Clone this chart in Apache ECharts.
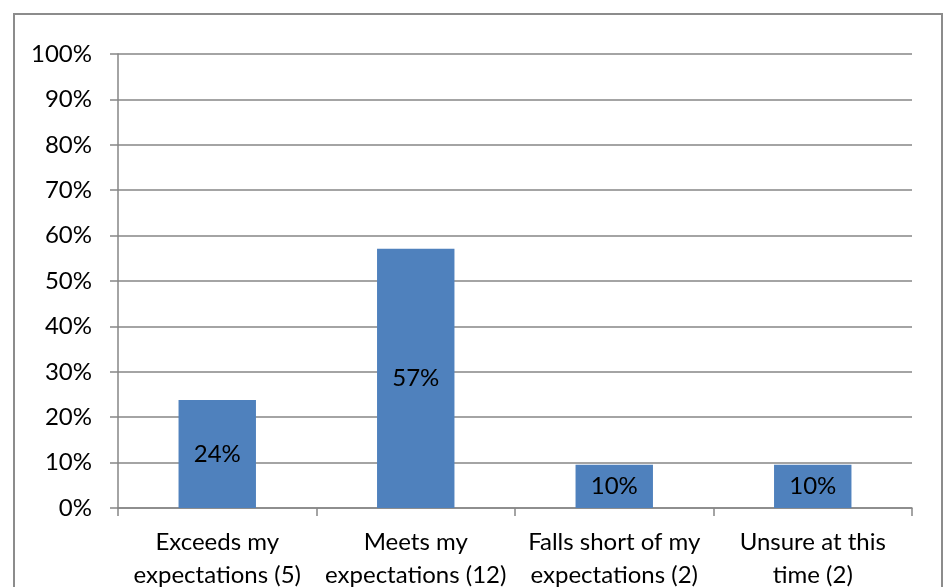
<!DOCTYPE html>
<html>
<head>
<meta charset="utf-8">
<script src="https://cdn.jsdelivr.net/npm/echarts@6/dist/echarts.min.js"></script>
<style>
  html, body { margin: 0; padding: 0; background: #fff; }
  #chart { width: 946px; height: 587px; }
</style>
</head>
<body>
<div id="chart"></div>
<script>
// data
const categories = [
  'Exceeds my\nexpectations (5)',
  'Meets my\nexpectations (12)',
  'Falls short of my\nexpectations (2)',
  'Unsure at this\ntime (2)'
];
const percents = [23.8, 57.1, 9.5, 9.5];
const yTicks = [0, 10, 20, 30, 40, 50, 60, 70, 80, 90, 100];

const fontFam = 'Lato, "Open Sans", sans-serif';
const myChart = echarts.init(document.getElementById('chart'));

const option = {
  animation: false,
  backgroundColor: '#fff',
  graphic: [{
    type: 'rect',
    shape: { x: 14, y: 14, width: 928, height: 600 },
    style: { fill: 'none', stroke: '#8c8c8c', lineWidth: 2 }
  }],
  grid: { left: 118, right: 34, top: 54, bottom: 79, outerBoundsMode: 'none', containLabel: false },
  xAxis: {
    type: 'category',
    data: categories,
    axisLine: { lineStyle: { color: '#868686', width: 1.5 } },
    axisTick: { show: true, length: 8, lineStyle: { color: '#868686', width: 1.5 } },
    axisLabel: {
      color: '#000', fontFamily: fontFam, fontSize: 24,
      lineHeight: 33, margin: 18, interval: 0
    }
  },
  yAxis: {
    type: 'value',
    min: yTicks[0],
    max: yTicks[yTicks.length - 1],
    interval: 10,
    axisLine: { show: true, lineStyle: { color: '#868686', width: 1.5 } },
    axisTick: { show: true, length: 8, lineStyle: { color: '#868686', width: 1.5 } },
    splitLine: { lineStyle: { color: '#868686', width: 1.5 } },
    axisLabel: {
      color: '#000', fontFamily: fontFam, fontSize: 24, margin: 26,
      formatter: v => v + '%'
    }
  },
  series: [{
    type: 'bar',
    data: percents,
    barCategoryGap: '61%',
    itemStyle: { color: '#4f81bd' },
    label: {
      show: true,
      position: 'inside',
      color: '#000',
      fontFamily: fontFam,
      fontSize: 24,
      formatter: p => Math.round(p.value) + '%'
    }
  }]
};

myChart.setOption(option);
</script>
</body>
</html>
